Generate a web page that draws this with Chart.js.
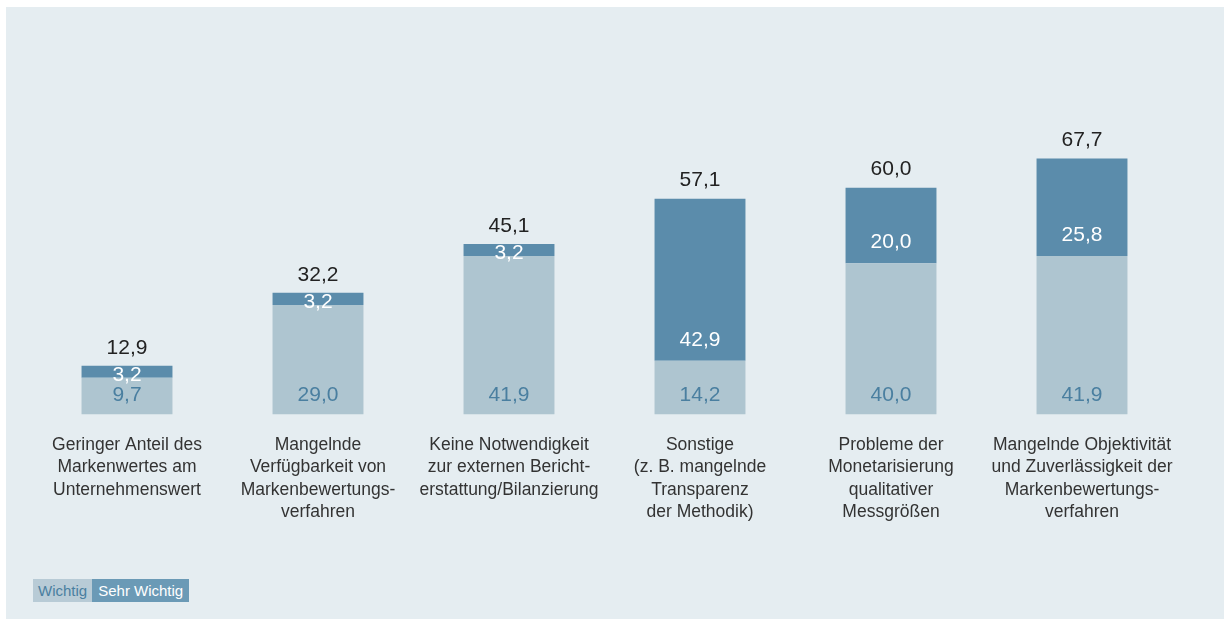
<!DOCTYPE html>
<html>
<head>
<meta charset="utf-8">
<script src="https://cdn.jsdelivr.net/npm/chart.js@4/dist/chart.umd.min.js"></script>
<style>
  html, body { margin: 0; padding: 0; background: #ffffff; }
  #wrap { position: relative; width: 1224px; height: 619px; overflow: hidden; }
  #panel { position: absolute; left: 6px; top: 7px; right: 0; bottom: 0; background: #e5edf1; }
  #c { position: absolute; left: 0; top: 0; }
  #legend { position: absolute; left: 33px; top: 579px; display: flex; font-family: "Liberation Sans", Arial, sans-serif; font-size: 15px; }
  #legend span { display: block; height: 23px; line-height: 23px; padding: 0 5px; }
  #legend .l1 { background: #b8cbd6; color: #4a7fa0; }
  #legend .l2 { background: #6b9ab6; color: #ffffff; padding: 0 6px 0 6px; }
</style>
</head>
<body>
<div id="wrap">
  <div id="panel"></div>
  <canvas id="c" width="1224" height="619"></canvas>
  <div id="legend"><span class="l1">Wichtig</span><span class="l2">Sehr Wichtig</span></div>
</div>
<script>
const categories = [
  ["Geringer Anteil des", "Markenwertes am", "Unternehmenswert"],
  ["Mangelnde", "Verfügbarkeit von", "Markenbewertungs-", "verfahren"],
  ["Keine Notwendigkeit", "zur externen Bericht-", "erstattung/Bilanzierung"],
  ["Sonstige", "(z. B. mangelnde", "Transparenz", "der Methodik)"],
  ["Probleme der", "Monetarisierung", "qualitativer", "Messgrößen"],
  ["Mangelnde Objektivität", "und Zuverlässigkeit der", "Markenbewertungs-", "verfahren"]
];
const wichtig = [9.7, 29.0, 41.9, 14.2, 40.0, 41.9];
const sehrWichtig = [3.2, 3.2, 3.2, 42.9, 20.0, 25.8];
const totals = [12.9, 32.2, 45.1, 57.1, 60.0, 67.7];
const seriesNames = ["Wichtig", "Sehr Wichtig"];

const fmt = v => v.toFixed(1).replace('.', ',');
const numFont = '21px "Liberation Sans", Arial, sans-serif';

const labelPlugin = {
  id: 'barLabels',
  afterDatasetsDraw(chart) {
    const ctx = chart.ctx;
    ctx.save();
    ctx.font = numFont;
    ctx.textAlign = 'center';
    ctx.textBaseline = 'middle';
    const m0 = chart.getDatasetMeta(0);
    const m1 = chart.getDatasetMeta(1);
    m0.data.forEach((el, i) => {
      ctx.fillStyle = '#4a7fa0';
      ctx.fillText(fmt(wichtig[i]), el.x, el.base - 19);
    });
    m1.data.forEach((el, i) => {
      const h = el.base - el.y;
      const y = h < 30 ? el.base - 3 : el.base - 21;
      ctx.fillStyle = '#ffffff';
      ctx.fillText(fmt(sehrWichtig[i]), el.x, y);
      ctx.fillStyle = '#222222';
      ctx.fillText(fmt(totals[i]), el.x, el.y - 18);
    });
    ctx.restore();
  }
};

new Chart(document.getElementById('c'), {
  type: 'bar',
  data: {
    labels: categories,
    datasets: [
      { label: seriesNames[0], data: wichtig, backgroundColor: '#aec5d0', borderWidth: 0 },
      { label: seriesNames[1], data: sehrWichtig, backgroundColor: '#5b8cab', borderWidth: 0 }
    ]
  },
  options: {
    responsive: false,
    animation: false,
    devicePixelRatio: 1,
    layout: { padding: { left: 31.5, right: 46.5, top: 36.5, bottom: 54.5 } },
    plugins: { legend: { display: false }, tooltip: { enabled: false } },
    datasets: { bar: { categoryPercentage: 1, barPercentage: 0.476 } },
    scales: {
      x: {
        stacked: true,
        grid: { display: false, drawTicks: false },
        border: { display: false },
        afterFit: s => { s.height = 150; },
        ticks: {
          autoSkip: false,
          maxRotation: 0,
          minRotation: 0,
          padding: 19,
          color: '#333333',
          font: { family: '"Liberation Sans", Arial, sans-serif', size: 17.5, lineHeight: '22.5px' }
        }
      },
      y: {
        stacked: true,
        display: false,
        min: 0,
        max: 100
      }
    }
  },
  plugins: [labelPlugin]
});
</script>
</body>
</html>
